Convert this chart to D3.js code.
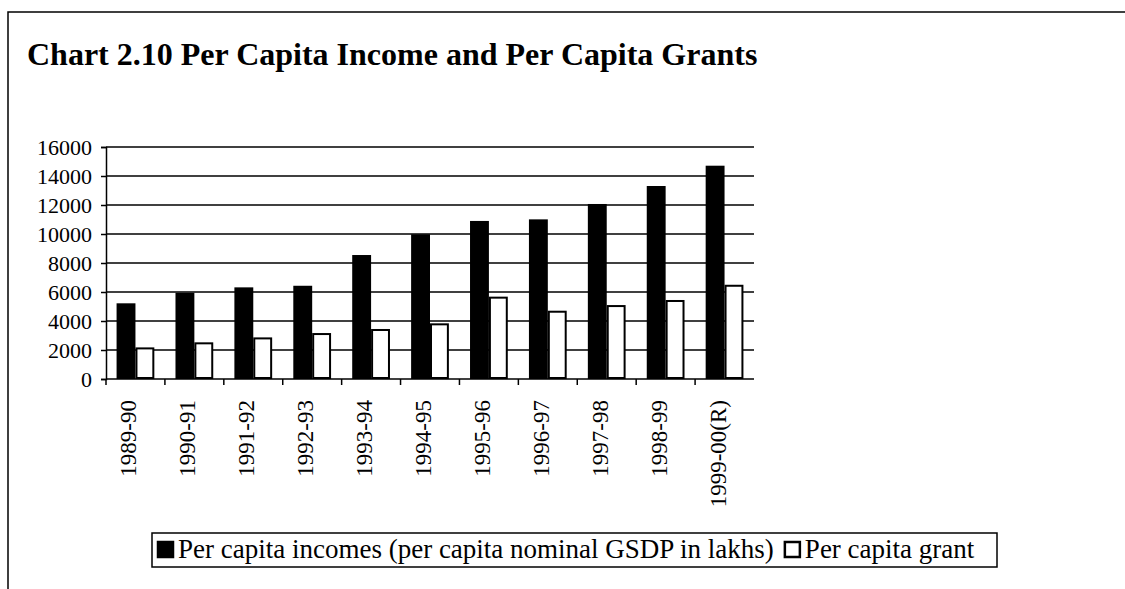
<!DOCTYPE html>
<html>
<head>
<meta charset="utf-8">
<script src="https://cdn.jsdelivr.net/npm/d3@7"></script>
<style>
  body { margin: 0; background: #fff; }
  text { font-family: "Liberation Serif", "Times New Roman", serif; fill: #000; }
</style>
</head>
<body>
<div id="chart"></div>
<script>
// data
var years = ["1989-90", "1990-91", "1991-92", "1992-93", "1993-94", "1994-95",
             "1995-96", "1996-97", "1997-98", "1998-99", "1999-00(R)"];
var incomes = [5220, 5950, 6320, 6430, 8550, 9980, 10900, 11010, 12070, 13310, 14710];
var grants = [2110, 2460, 2800, 3100, 3380, 3770, 5610, 4640, 5030, 5380, 6430];
var yTicks = [0, 2000, 4000, 6000, 8000, 10000, 12000, 14000, 16000];
var seriesNames = ["Per capita incomes (per capita nominal GSDP in lakhs)", "Per capita grant"];

var svgWidth = 1125;
var svgHeight = 589;

var margin = { top: 147, left: 106, right: 371, bottom: 210 };
var chartWidth = svgWidth - margin.left - margin.right;
var chartHeight = svgHeight - margin.top - margin.bottom;

var svg = d3.select("#chart")
  .append("svg")
  .attr("width", svgWidth)
  .attr("height", svgHeight);

// outer frame (top and left edges only)
svg.append("path")
  .attr("d", "M8,589 L8,12 L1125,12")
  .attr("fill", "none")
  .attr("stroke", "#000")
  .attr("stroke-width", 1.5);

// title
svg.append("text")
  .attr("x", 27)
  .attr("y", 65)
  .style("font-size", "32px")
  .style("font-weight", "bold")
  .text("Chart 2.10 Per Capita Income and Per Capita Grants");

var chartGroup = svg.append("g")
  .attr("transform", `translate(${margin.left}, ${margin.top})`);

// scales
var x0 = d3.scaleBand()
  .domain(years)
  .range([0, chartWidth]);

var x1 = d3.scaleBand()
  .domain([0, 1])
  .range([0, x0.bandwidth()])
  .paddingOuter(0.56);

var yScale = d3.scaleLinear()
  .domain([0, 16000])
  .range([chartHeight, 0]);

// gridlines
chartGroup.selectAll(".grid")
  .data(yTicks.slice(1))
  .enter()
  .append("line")
  .attr("x1", 0)
  .attr("x2", chartWidth)
  .attr("y1", d => yScale(d))
  .attr("y2", d => yScale(d))
  .attr("stroke", "#000")
  .attr("stroke-width", 1.5);

// bars
var groups = chartGroup.selectAll(".yr")
  .data(years)
  .enter()
  .append("g")
  .attr("transform", d => `translate(${x0(d)},0)`);

groups.append("rect")
  .attr("x", x1(0))
  .attr("width", x1.bandwidth())
  .attr("y", (d, i) => yScale(incomes[i]))
  .attr("height", (d, i) => chartHeight - yScale(incomes[i]))
  .attr("fill", "#000");

groups.append("rect")
  .attr("x", x1(1) + 1)
  .attr("width", x1.bandwidth() - 2)
  .attr("y", (d, i) => yScale(grants[i]))
  .attr("height", (d, i) => chartHeight - yScale(grants[i]) - 1)
  .attr("fill", "#fff")
  .attr("stroke", "#000")
  .attr("stroke-width", 2);

// y axis
var yAxis = d3.axisLeft(yScale)
  .tickValues(yTicks)
  .tickFormat(d3.format("d"))
  .tickSize(5)
  .tickPadding(9);
var yG = chartGroup.append("g").call(yAxis);
yG.select(".domain").attr("stroke-width", 1.5);
yG.selectAll(".tick line").attr("stroke-width", 1.5);
yG.selectAll(".tick text")
  .style("font-size", "22px")
  .attr("dy", "0.35em");

// x axis with ticks at band edges
var xG = chartGroup.append("g")
  .attr("transform", `translate(0, ${chartHeight})`);
xG.append("line")
  .attr("x1", 0).attr("x2", chartWidth)
  .attr("stroke", "#000").attr("stroke-width", 1.5);
xG.selectAll(".xt")
  .data(years)
  .enter()
  .append("line")
  .attr("x1", d => x0(d)).attr("x2", d => x0(d))
  .attr("y1", 0).attr("y2", 6)
  .attr("stroke", "#000").attr("stroke-width", 1.5);

xG.selectAll(".xl")
  .data(years)
  .enter()
  .append("text")
  .attr("text-anchor", "end")
  .attr("transform", d => `translate(${x0(d) + x0.bandwidth() / 2 + 1}, 21) rotate(-90)`)
  .style("font-size", "23px")
  .text(d => d);

// legend
var legend = svg.append("g").attr("transform", "translate(152, 533)");
legend.append("rect")
  .attr("width", 845)
  .attr("height", 34)
  .attr("fill", "#fff")
  .attr("stroke", "#000")
  .attr("stroke-width", 1.5);

var lx = 5;
seriesNames.forEach(function(name, i) {
  legend.append("rect")
    .attr("x", lx + 1)
    .attr("y", 9)
    .attr("width", 15)
    .attr("height", 15)
    .attr("fill", i === 0 ? "#000" : "#fff")
    .attr("stroke", "#000")
    .attr("stroke-width", 2.5);
  var t = legend.append("text")
    .attr("x", lx + 21)
    .attr("y", 25)
    .style("font-size", "27px")
    .text(name);
  lx += 21 + t.node().getComputedTextLength() + 10;
});
</script>
</body>
</html>
